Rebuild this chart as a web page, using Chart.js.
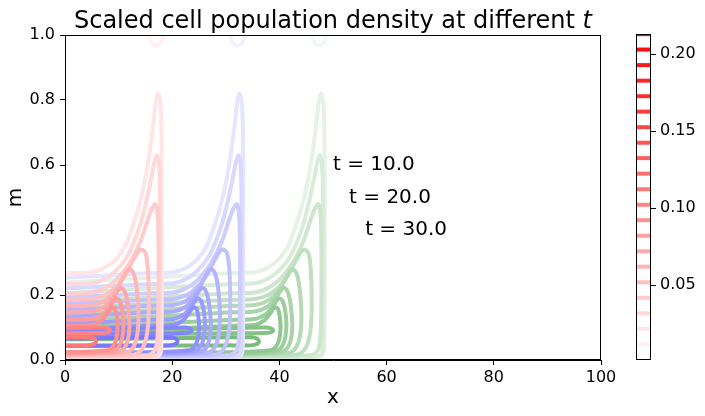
<!DOCTYPE html>
<html>
<head>
<meta charset="utf-8">
<script src="https://cdn.jsdelivr.net/npm/chart.js@4.4.0/dist/chart.umd.min.js"></script>
<style>
  body { margin: 0; background: #fff; }
  #wrap { position: relative; width: 705px; height: 416px; font-family: 'DejaVu Sans'; }
  #title { position: absolute; left: 65px; width: 536px; top: 5px; text-align: center;
           font-size: 24px; line-height: 30px; color: #000; white-space: nowrap; }
  #main { position: absolute; left: 0; top: 0; }
  #cbar { position: absolute; left: 600px; top: 0; }
</style>
</head>
<body>
<div id="wrap">
  <canvas id="main" width="705" height="416"></canvas>
  <canvas id="cbar" width="105" height="416"></canvas>
  <div id="title">Scaled cell population density at different <i>t</i></div>
</div>
<script>
// Data
const timeLabels = ['t = 10.0', 't = 20.0', 't = 30.0'];
const timeShift = [0, 15.2, 30.4];      // x offset of each front relative to t = 10
const labelX = [50, 53, 56];
const labelM = [0.6, 0.5, 0.4];
const groupRgb = [[255, 0, 0], [0, 0, 255], [0, 128, 0]];
const xTicks = [0, 20, 40, 60, 80, 100];
const yTicks = [0, 0.2, 0.4, 0.6, 0.8, 1.0];

// contour lines at t = 10, [x, m] (lowest level first)
const capU = [[15.4,1.03],[15.6,1.0],[16.2,0.975],[17.0,0.968],[17.8,0.975],[18.5,1.0],[18.7,1.03]];
const line1 = [[-40,0.229],[-15,0.253],[0,0.267],[5,0.27],[7.5,0.285],[9.5,0.31],[11.2,0.35],[12.6,0.41],
  [13.9,0.48],[15,0.56],[15.8,0.64],[16.5,0.73],[17,0.8],[17.4,0.82],[17.8,0.79],[18,0.7],[18.05,0.5],
  [18.05,0.2],[18,0.06],[17.8,0.02],[17,0.009],[10,0.007],[0,0.006],[-15,0.005],[-40,0.004]];
const line2 = [[-40,0.197],[-15,0.22],[0,0.233],[5,0.236],[7.5,0.25],[9.5,0.275],[11.3,0.31],[12.8,0.36],
  [14.1,0.42],[15.2,0.49],[16.1,0.56],[16.7,0.61],[17.15,0.63],[17.5,0.61],[17.7,0.54],[17.75,0.4],
  [17.75,0.15],[17.7,0.05],[17.4,0.018],[16,0.011],[0,0.009],[-15,0.008],[-40,0.007]];
const line3 = [[-40,0.17],[-15,0.192],[0,0.205],[5,0.208],[7.5,0.222],[9.5,0.245],[11.3,0.28],[12.8,0.32],
  [14.2,0.37],[15.4,0.43],[16.2,0.465],[16.8,0.48],[17.2,0.46],[17.4,0.4],[17.45,0.25],[17.3,0.08],
  [16.8,0.03],[15.5,0.015],[0,0.012],[-15,0.011],[-40,0.01]];
const line4 = [[-40,0.15],[-15,0.172],[0,0.185],[5,0.188],[7.5,0.2],[9.5,0.225],[11.2,0.26],[12.5,0.3],
  [13.5,0.33],[14.3,0.34],[15,0.33],[15.4,0.29],[15.6,0.22],[15.6,0.14],[15.3,0.08],[14.6,0.04],
  [13.5,0.02],[12,0.015],[0,0.014],[-15,0.013],[-40,0.012]];
const line5 = [[-40,0.132],[-15,0.153],[0,0.166],[5,0.169],[7.5,0.183],[9.3,0.21],[10.6,0.245],[11.4,0.27],
  [12,0.28],[12.7,0.27],[13.2,0.24],[13.6,0.18],[13.7,0.12],[13.4,0.07],[12.7,0.038],[11.5,0.022],
  [0,0.016],[-15,0.015],[-40,0.014]];
const line6 = [[-40,0.113],[-15,0.133],[0,0.146],[5,0.149],[7.3,0.163],[8.9,0.19],[9.8,0.212],[10.4,0.222],
  [11,0.215],[11.5,0.19],[11.9,0.14],[12,0.1],[11.7,0.06],[11,0.035],[9.8,0.024],[0,0.018],
  [-15,0.017],[-40,0.016]];
const line7 = [[-40,0.092],[-15,0.111],[0,0.123],[5,0.126],[7,0.14],[8.4,0.165],[9.1,0.183],[9.6,0.19],
  [10.2,0.182],[10.7,0.15],[10.9,0.11],[10.7,0.07],[10.1,0.042],[9,0.028],[0,0.021],[-15,0.02],[-40,0.019]];
const line8 = [[-40,0.078],[-15,0.094],[0,0.105],[5,0.108],[6.8,0.122],[8,0.146],[8.7,0.162],[9.3,0.158],
  [9.7,0.13],[9.8,0.095],[9.5,0.06],[8.9,0.04],[8,0.03],[0,0.024],[-15,0.023],[-40,0.022]];
const loop1 = [[-40,0.082],[-15,0.092],[0,0.098],[7.2,0.1],[8.3,0.095],[8.4,0.089],[7.6,0.084],[0,0.082],
  [-15,0.079],[-40,0.072]];
const loop2 = [[-40,0.062],[-15,0.066],[0,0.07],[4.3,0.07],[5.4,0.066],[5.8,0.057],[5.4,0.049],[4.3,0.045],
  [0,0.045],[-15,0.044],[-40,0.042]];

const contourLines = [capU, line1, line2, line3, line4, line5, line6, line7, line8, loop1, loop2];

// colorbar levels (the contour lines above use the lowest ones)
const cbarLevels = [0.0115, 0.0216, 0.0316, 0.0417, 0.0518, 0.0619, 0.0719, 0.082, 0.0921, 0.1021, 0.1122,
  0.1223, 0.1324, 0.1424, 0.1525, 0.1626, 0.1726, 0.1827, 0.1928, 0.2029, 0.2129];
const contourLevels = cbarLevels.slice(0, contourLines.length);
const cbarTicks = [0.05, 0.10, 0.15, 0.20];
const cbarMin = 0.0013;
const cbarMax = 0.213;

Chart.defaults.font.family = "'DejaVu Sans'";
Chart.defaults.font.size = 16;
Chart.defaults.color = '#000';

// white -> base colour, like a single-hue colormap
function tint(rgb, f) {
  const c = rgb.map(v => Math.round(255 + (v - 255) * f));
  return `rgb(${c[0]}, ${c[1]}, ${c[2]})`;
}

// Plugins
const framePlugin = {
  id: 'frame',
  afterDraw(chart) {
    const { ctx, chartArea: a } = chart;
    ctx.save();
    ctx.strokeStyle = '#000';
    ctx.lineWidth = 1;
    ctx.strokeRect(Math.round(a.left) + 0.5, Math.round(a.top) + 0.5,
      Math.round(a.right - a.left) - 1, Math.round(a.bottom - a.top) - 1);
    ctx.restore();
  }
};

const timeLabelPlugin = {
  id: 'timeLabels',
  afterDatasetsDraw(chart) {
    const { ctx, scales: { x, y } } = chart;
    ctx.save();
    ctx.font = "20px 'DejaVu Sans'";
    ctx.fillStyle = '#000';
    ctx.textBaseline = 'middle';
    timeLabels.forEach((t, i) => {
      ctx.fillText(t, x.getPixelForValue(labelX[i]), y.getPixelForValue(labelM[i]));
    });
    ctx.restore();
  }
};

// Main contour chart
function initializeMainChart() {
  const datasets = [];
  timeShift.forEach((shift, g) => {
    contourLines.forEach((pts, i) => {
      datasets.push({
        data: pts.map(p => ({ x: p[0] + shift, y: p[1] })),
        borderColor: tint(groupRgb[g], contourLevels[i] / cbarMax),
        borderWidth: 4,
        showLine: true,
        tension: 0.25,
        pointRadius: 0,
        borderJoinStyle: 'round',
        clip: 0,
        // red over blue over green, higher levels on top
        order: g * 100 + (contourLines.length - i)
      });
    });
  });

  new Chart(document.getElementById('main'), {
    type: 'scatter',
    data: { datasets },
    options: {
      responsive: false,
      animation: false,
      events: [],
      layout: { padding: { left: 0, top: 35, right: 104, bottom: 0 } },
      plugins: { legend: { display: false }, tooltip: { enabled: false } },
      scales: {
        x: {
          type: 'linear', min: 0, max: 100,
          afterBuildTicks: s => { s.ticks = xTicks.map(v => ({ value: v })); },
          afterFit: s => { s.height = 56; },
          grid: { drawOnChartArea: false, color: '#000', tickLength: 5 },
          border: { color: '#000' },
          ticks: { padding: 3, maxRotation: 0, callback: v => String(v) },
          title: { display: true, text: 'x', font: { size: 20 }, padding: { top: 0, bottom: 6 } }
        },
        y: {
          type: 'linear', min: 0, max: 1,
          afterBuildTicks: s => { s.ticks = yTicks.map(v => ({ value: v })); },
          afterFit: s => { s.width = 65; },
          grid: { drawOnChartArea: false, color: '#000', tickLength: 5 },
          border: { color: '#000' },
          ticks: { padding: 5, callback: v => v.toFixed(1) },
          title: { display: true, text: 'm', font: { size: 20 }, padding: { top: 4, bottom: 0 } }
        }
      }
    },
    plugins: [timeLabelPlugin, framePlugin]
  });
}

// Colorbar
function initializeColorbar() {
  const datasets = cbarLevels.map(lev => ({
    data: [{ x: 0, y: lev }, { x: 1, y: lev }],
    borderColor: tint(groupRgb[0], lev / cbarMax),
    borderWidth: 4,
    showLine: true,
    pointRadius: 0,
    clip: 0
  }));

  new Chart(document.getElementById('cbar'), {
    type: 'scatter',
    data: { datasets },
    options: {
      responsive: false,
      animation: false,
      events: [],
      layout: { padding: { left: 36, top: 34, right: 0, bottom: 56 } },
      plugins: { legend: { display: false }, tooltip: { enabled: false } },
      scales: {
        x: { type: 'linear', min: 0, max: 1, display: false },
        y: {
          type: 'linear', position: 'right', min: cbarMin, max: cbarMax,
          afterBuildTicks: s => { s.ticks = cbarTicks.map(v => ({ value: v })); },
          afterFit: s => { s.width = 54; },
          grid: { drawOnChartArea: false, color: '#000', tickLength: 5 },
          border: { display: false },
          ticks: { padding: 4, callback: v => v.toFixed(2) }
        }
      }
    },
    plugins: [framePlugin]
  });
}

document.addEventListener('DOMContentLoaded', () => {
  initializeMainChart();
  initializeColorbar();
});
</script>
</body>
</html>
